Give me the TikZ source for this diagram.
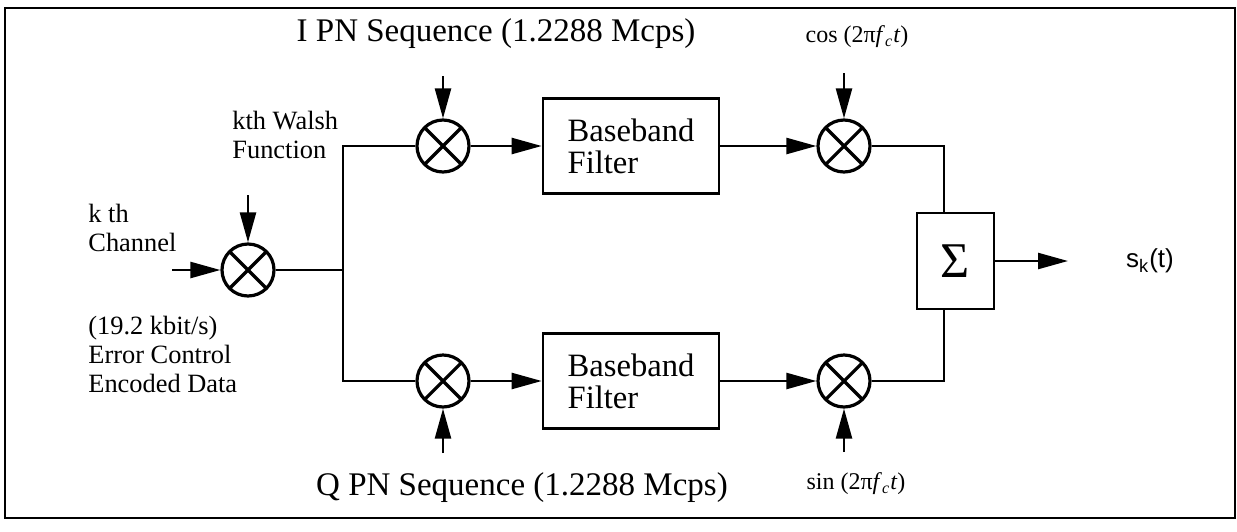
\documentclass[tikz,border=0pt]{standalone}
\usepackage{fontspec}
\setmainfont{Liberation Serif}
\newfontfamily\skfont{Liberation Sans}
\usetikzlibrary{arrows.meta,calc}
\tikzset{
  conn/.style={line width=1.2pt},
  arr/.style={conn,-{Triangle[length=15pt,width=8pt]}},
  mixer/.style={circle,draw,line width=1.6pt,minimum size=26pt,inner sep=0pt,
    path picture={\draw[line width=1.6pt]
      (path picture bounding box.south west)--(path picture bounding box.north east)
      (path picture bounding box.north west)--(path picture bounding box.south east);}},
  filt/.style={draw,line width=1.3pt,minimum width=88pt,minimum height=47.5pt,align=left,
    font=\fontsize{16.3}{16}\selectfont},
  sumbox/.style={draw,line width=1.3pt,minimum width=38.5pt,minimum height=48pt,
    font=\fontsize{25}{26}\selectfont},
  big/.style={font=\fontsize{16.5}{18}\selectfont,inner sep=0pt},
  small/.style={font=\fontsize{13.2}{14.5}\selectfont,align=left,inner sep=0pt,anchor=west},
  trig/.style={font=\fontsize{12}{14}\selectfont,inner sep=0pt},
}
\begin{document}
\begin{tikzpicture}[x=0.5pt,y=-0.5pt]
\useasboundingbox (0,0) rectangle (1237,531);
\draw[line width=1.1pt] (5,8) rectangle (1235,518);
% nodes
\node[mixer] (m0) at (248,270) {};
\node[mixer] (mi) at (443,146) {};
\node[mixer] (mq) at (443,381) {};
\node[filt] (fi) at (631,146) {Baseband\\Filter};
\node[filt] (fq) at (631,381) {Baseband\\Filter};
\node[mixer] (mc) at (844,146) {};
\node[mixer] (ms) at (844,381) {};
\node[sumbox] (sum) at (955.5,261) {Σ};
% labels
\node[big] (ipn) at (496,34) {I PN Sequence (1.2288 Mcps)};
\node[big] (qpn) at (522,488) {Q PN Sequence (1.2288 Mcps)};
\node[trig] (cosl) at (857,37) {cos (2π\textit{f}\textsubscript{\textit{c}}\textit{t})};
\node[trig] (sinl) at (856,484) {sin (2π\textit{f}\textsubscript{\textit{c}}\textit{t})};
\node[small] (walsh) at (232,135) {kth Walsh\\Function};
\node[small] (chan) at (88,228) {k th\\Channel};
\node[small] (data) at (88,354) {(19.2 kbit/s)\\Error Control\\Encoded Data};
\node[font=\skfont\fontsize{13}{14}\selectfont,inner sep=0pt] (sk) at (1150,261) {s\textsubscript{k}(t)};
% free ends
\coordinate (inp) at (172,270);
\coordinate (wal) at (248,195);
\coordinate (sp) at (343,270);
\coordinate (ia) at (443,76);
\coordinate (qa) at (443,453);
\coordinate (ca) at (844,73);
\coordinate (sa) at (844,452);
\coordinate (out) at (1068,261);
% connectors
\draw[arr] (inp) -- (m0.west);
\draw[arr] (wal) -- (m0.north);
\draw[conn] (m0.east) -- (sp);
\draw[conn] (mi.west) -| (sp) |- (mq.west);
\draw[arr] (ia) -- (mi.north);
\draw[arr] (qa) -- (mq.south);
\draw[arr] (mi.east) -- (fi.west);
\draw[arr] (mq.east) -- (fq.west);
\draw[arr] (fi.east) -- (mc.west);
\draw[arr] (fq.east) -- (ms.west);
\draw[arr] (ca) -- (mc.north);
\draw[arr] (sa) -- (ms.south);
\draw[conn] (mc.east) -| ([xshift=-5.75pt]sum.north);
\draw[conn] (ms.east) -| ([xshift=-5.75pt]sum.south);
\draw[arr] (sum.east) -- (out);
\end{tikzpicture}
\end{document}
